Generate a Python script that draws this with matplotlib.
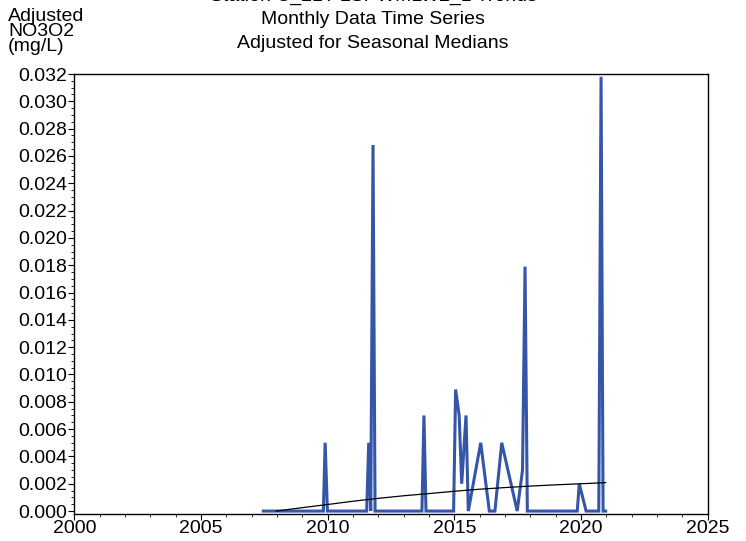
"""Adjusted NO3O2 monthly time series with seasonal-median trend (SAS-style chart)."""

import matplotlib

matplotlib.use("Agg")
import matplotlib.pyplot as plt
from matplotlib.ticker import MultipleLocator, FormatStrFormatter

plt.rcParams["font.family"] = ["Liberation Sans", "DejaVu Sans"]

# monthly adjusted values (decimal year, mg/L)
years = [2007.46, 2009.83, 2009.90, 2009.99, 2011.54, 2011.62, 2011.70, 2011.79,
         2011.87, 2013.72, 2013.80, 2013.88, 2014.97, 2015.05, 2015.19, 2015.29,
         2015.46, 2015.55, 2016.04, 2016.38, 2016.60, 2016.87, 2017.48, 2017.69,
         2017.79, 2017.88, 2019.85, 2019.93, 2020.20, 2020.70, 2020.79, 2020.87,
         2020.97]
values = [0.0, 0.0, 0.0050, 0.0, 0.0, 0.0050, 0.0, 0.0268,
          0.0, 0.0, 0.0070, 0.0, 0.0, 0.0089, 0.0070, 0.0020,
          0.0070, 0.0, 0.0050, 0.0, 0.0, 0.0050, 0.0, 0.0030,
          0.0179, 0.0, 0.0, 0.0020, 0.0, 0.0, 0.0318, 0.0,
          0.0]

# trend curve
trend_years = [2007.96, 2009.0, 2010.0, 2011.0, 2012.0, 2013.0, 2014.0, 2015.0,
               2016.0, 2017.0, 2018.0, 2019.0, 2020.0, 2020.97]
trend_values = [0.0, 0.00025, 0.00048, 0.00072, 0.00093, 0.00112, 0.00128, 0.00145,
                0.00160, 0.00172, 0.00183, 0.00192, 0.00200, 0.00208]

BLUE = "#3555a8"

fig = plt.figure(figsize=(7.46, 5.41), dpi=100)
ax = fig.add_axes([0.0996, 0.0508, 0.8491, 0.8124])

ax.plot(years, values, color=BLUE, lw=2.2, solid_joinstyle="miter", zorder=2)
ax.plot(trend_years, trend_values, color="black", lw=0.9, zorder=3)

ax.set_xlim(2000, 2025)
ax.set_ylim(-0.00018, 0.032)
ax.xaxis.set_major_locator(MultipleLocator(5))
ax.xaxis.set_minor_locator(MultipleLocator(1))
ax.yaxis.set_minor_locator(MultipleLocator(0.0005))
ax.yaxis.set_major_formatter(FormatStrFormatter("%.3f"))
ax.set_yticks([0.002 * i for i in range(17)])

ax.tick_params(which="major", direction="out", length=4, width=0.8, labelsize=14, pad=1)
ax.tick_params(which="minor", direction="out", length=2.5, width=0.6)
for s in ax.spines.values():
    s.set_linewidth(1.0)

# first title line is cut by the top edge, as in the original export
fig.text(0.5, 1.006, "Station C_21T LSPWMLW2_1 Trends", ha="center", va="center", fontsize=14)
fig.text(0.5, 1 - 19 / 541, "Monthly Data Time Series", ha="center", va="center", fontsize=14)
fig.text(0.5, 1 - 44 / 541, "Adjusted for Seasonal Medians", ha="center", va="center", fontsize=14)
fig.text(8 / 746, 1 - 8 / 541, "Adjusted\nNO3O2\n(mg/L)", ha="left", va="top",
         fontsize=14, linespacing=0.85)

fig.savefig("out.png", dpi=100)
